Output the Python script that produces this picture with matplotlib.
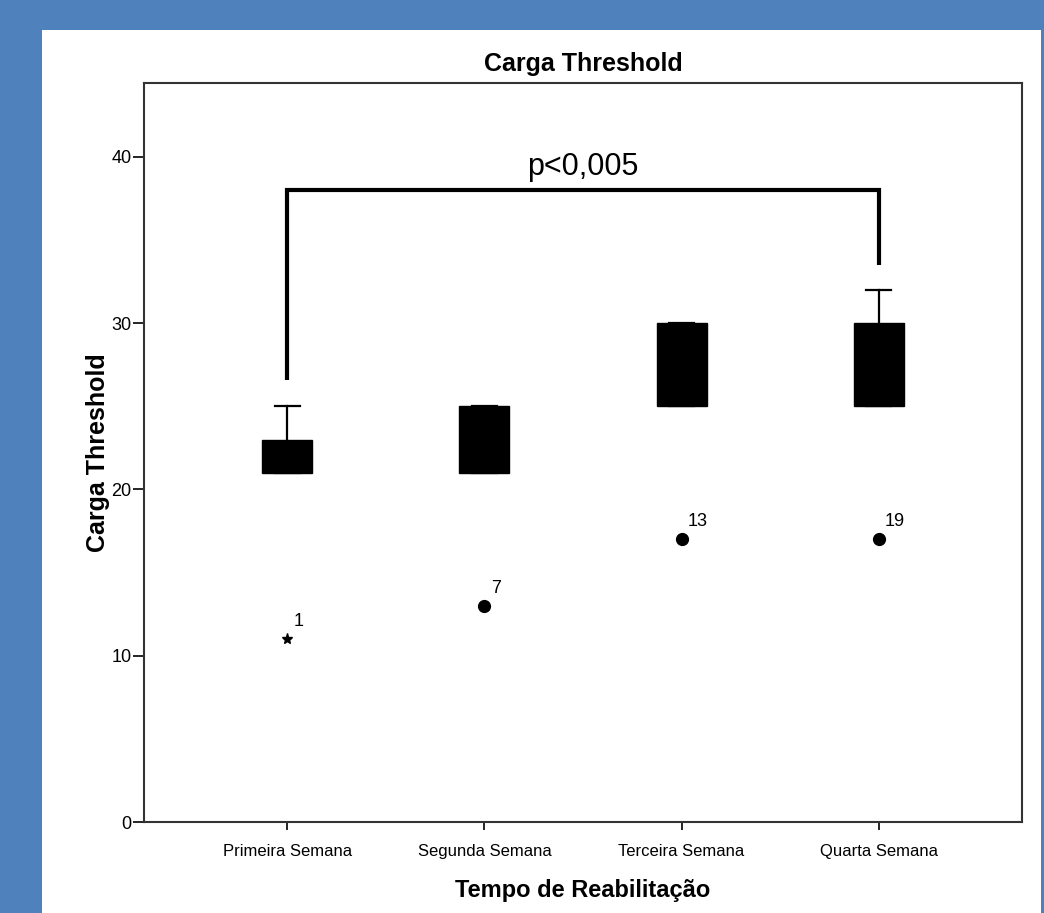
import matplotlib.pyplot as plt
from matplotlib.patches import Rectangle

# dados
categorias = ['Primeira Semana', 'Segunda Semana', 'Terceira Semana', 'Quarta Semana']
q1 = [21, 21, 25, 25]
mediana = [22, 23, 28, 28]
q3 = [23, 25, 30, 30]
whis_lo = [21, 21, 25, 25]
whis_hi = [25, 25, 30, 32]
outlier_val = [11, 13, 17, 17]
outlier_lab = ['1', '7', '13', '19']
outlier_tipo = ['*', 'o', 'o', 'o']

bracket_y = [26.6, 38.0, 33.5]
texto_p = 'p<0,005'

plt.rcParams['font.family'] = ['Liberation Sans', 'DejaVu Sans']
fonte_estreita = ['Liberation Sans Narrow', 'Liberation Sans', 'DejaVu Sans']

fig = plt.figure(figsize=(10.44, 9.13), dpi=100)
fig.patch.set_facecolor('#4F81BD')
fig.patches.append(Rectangle((42/1044, 0), 999/1044, 883/913, transform=fig.transFigure,
                             facecolor='white', edgecolor='none', zorder=-10))

ax = fig.add_axes([144/1044, 91/913, 878/1044, 739/913])

stats = []
for i in range(4):
    stats.append({'q1': q1[i], 'med': mediana[i], 'q3': q3[i],
                  'whislo': whis_lo[i], 'whishi': whis_hi[i], 'fliers': []})

ax.bxp(stats, positions=range(4), widths=0.254, capwidths=0.127,
       showfliers=False, patch_artist=True,
       boxprops=dict(facecolor='black', edgecolor='black', linewidth=1),
       medianprops=dict(color='black', linewidth=1),
       whiskerprops=dict(color='black', linewidth=1.6),
       capprops=dict(color='black', linewidth=1.6))

for i in range(4):
    if outlier_tipo[i] == '*':
        ax.plot(i, outlier_val[i], marker='*', color='black', markersize=8, zorder=5)
    else:
        ax.plot(i, outlier_val[i], marker='o', color='black', markersize=8.5, zorder=5)
    ax.annotate(outlier_lab[i], (i, outlier_val[i]), xytext=(4.5, 9.5),
                textcoords='offset points', fontsize=13, color='black',
                family=fonte_estreita)

ax.plot([0, 0, 3, 3], [bracket_y[0], bracket_y[1], bracket_y[1], bracket_y[2]],
        color='black', linewidth=3, solid_capstyle='butt', solid_joinstyle='miter')
ax.text(1.5, 38.9, texto_p, ha='center', va='baseline', fontsize=22)

ax.set_xlim(-0.726, 3.726)
ax.set_ylim(0, 44.45)
ax.set_yticks([0, 10, 20, 30, 40])
ax.set_xticks(range(4))
ax.set_xticklabels(categorias, fontsize=12, family=fonte_estreita)
ax.set_yticklabels(['0', '10', '20', '30', '40'], fontsize=13, family=fonte_estreita)
ax.tick_params(axis='y', length=8, width=1.2, pad=1)
ax.tick_params(axis='x', length=6, width=1.2, pad=10)
for s in ax.spines.values():
    s.set_color('#333333')
    s.set_linewidth(1.5)

ax.set_title('Carga Threshold', fontsize=18, fontweight='bold', pad=9)
ax.set_ylabel('Carga Threshold', fontsize=18, fontweight='bold', labelpad=1)
ax.set_xlabel('Tempo de Reabilitação', fontsize=17, fontweight='bold', labelpad=14)

plt.savefig('out.png', dpi=100, facecolor=fig.get_facecolor())
